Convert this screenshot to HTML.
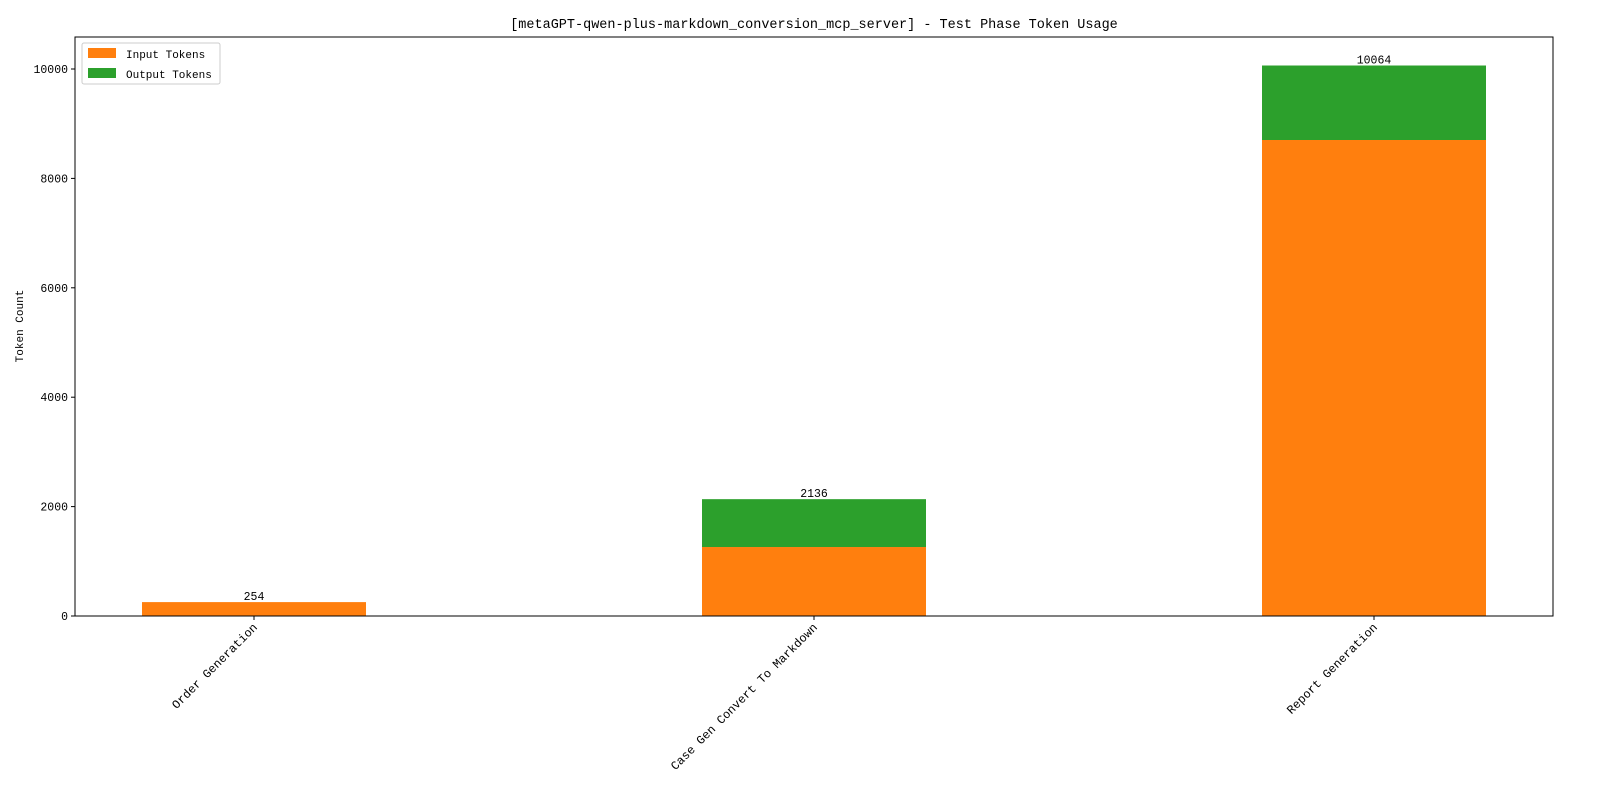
<!DOCTYPE html>
<html><head><meta charset="utf-8"><style>
html,body{margin:0;padding:0;background:#fff;overflow:hidden;width:1600px;height:800px;}
svg{display:block;}
svg text{font-family:"Liberation Mono","DejaVu Sans Mono",monospace;fill:#000;}
</style></head><body>
<svg id="chart" width="1600" height="800" xmlns="http://www.w3.org/2000/svg">
<rect x="0" y="0" width="1600" height="800" fill="#fff"/>
<text x="814" y="28" font-size="13.5" text-anchor="middle">[metaGPT-qwen-plus-markdown_conversion_mcp_server] - Test Phase Token Usage</text>
<g id="bars"></g>
<g id="axes"></g>
<rect x="75" y="37" width="1478" height="579" fill="none" stroke="#000" stroke-width="1"/>
<text transform="translate(23,326) rotate(-90)" font-size="11" text-anchor="middle">Token Count</text>
<g>
<rect x="82" y="43" width="138" height="41" fill="#fff" stroke="#ccc" rx="2"/>
<rect x="88" y="48" width="28" height="10" fill="#ff7f0e"/>
<text x="126" y="58" font-size="11">Input Tokens</text>
<rect x="88" y="68" width="28" height="10" fill="#2ca02c"/>
<text x="126" y="78" font-size="11">Output Tokens</text>
</g>
</svg>
<script>
const categories = ["Order Generation", "Case Gen Convert To Markdown", "Report Generation"];
const inputTokens = [254, 1261, 8702];
const outputTokens = [0, 875, 1362];
const yTicks = [0, 2000, 4000, 6000, 8000, 10000];

const NS = "http://www.w3.org/2000/svg";
const plotL = 75, plotR = 1553, y0 = 616, pxPerUnit = 547 / 10000;
const firstCenter = 254, step = 560, barW = 224;
function xPos(i){ return firstCenter + i * step; }
function yPos(v){ return y0 - v * pxPerUnit; }
function mk(tag, attrs, parent){
  const e = document.createElementNS(NS, tag);
  for (const k in attrs) e.setAttribute(k, attrs[k]);
  parent.appendChild(e); return e;
}
const bars = document.getElementById('bars');
const axes = document.getElementById('axes');
categories.forEach((c, i) => {
  const cx = xPos(i), inp = inputTokens[i], out = outputTokens[i], tot = inp + out;
  const r1 = mk('rect', {x: cx - barW/2, y: yPos(inp), width: barW, height: yPos(0) - yPos(inp), fill: '#ff7f0e'}, bars);
  
  
  const r2 = mk('rect', {x: cx - barW/2, y: yPos(tot), width: barW, height: yPos(inp) - yPos(tot), fill: '#2ca02c'}, bars);
  
  
  const t = mk('text', {x: cx, y: yPos(tot) - 2, 'font-size': 11.5, 'text-anchor': 'middle'}, bars);
  t.textContent = String(tot);
  
  
  mk('line', {x1: cx, x2: cx, y1: y0, y2: y0 + 4, stroke: '#000'}, axes);
  const lbl = mk('text', {transform: 'translate(' + (cx + 4) + ',' + (y0 + 12) + ') rotate(-45)', 'font-size': 12, 'text-anchor': 'end'}, axes);
  lbl.textContent = c;
  
  
});
yTicks.forEach(v => {
  const y = yPos(v);
  mk('line', {x1: plotL - 4, x2: plotL, y1: y, y2: y, stroke: '#000'}, axes);
  const t = mk('text', {x: plotL - 7, y: y + 4, 'font-size': 11.5, 'text-anchor': 'end'}, axes);
  t.textContent = String(v);
  
  
});
</script>
</body></html>
